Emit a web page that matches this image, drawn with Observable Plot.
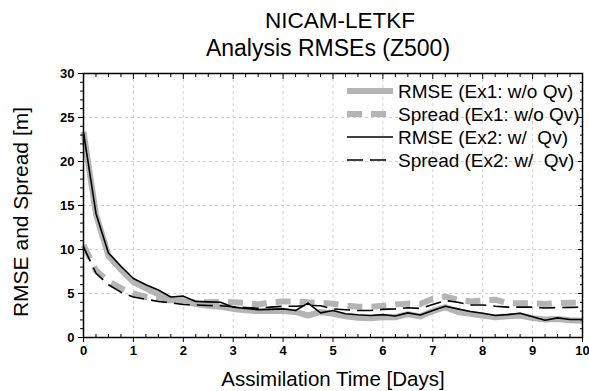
<!DOCTYPE html>
<html><head><meta charset="utf-8">
<script src="https://cdn.jsdelivr.net/npm/d3@7"></script>
<script src="https://cdn.jsdelivr.net/npm/@observablehq/plot@0.6"></script>
<style>
body{margin:0;background:#fff;font-family:"Liberation Sans",Arial,sans-serif;}
#wrap{position:relative;width:589px;height:391px;overflow:hidden;}
#wrap svg{position:absolute;left:0;top:0;}
.t{position:absolute;width:400px;text-align:center;color:#000;white-space:nowrap;}
#ylab{position:absolute;left:21px;top:212px;transform:translate(-50%,-50%) rotate(-90deg);font-size:21px;white-space:nowrap;}
</style></head><body>
<div id="wrap">
<div class="t" style="left:140px;top:8px;font-size:22.5px;">NICAM-LETKF</div>
<div class="t" style="left:128px;top:35px;font-size:23px;">Analysis RMSEs (Z500)</div>
<div class="t" style="left:133px;top:367px;font-size:20.5px;">Assimilation Time [Days]</div>
<div id="ylab">RMSE and Spread [m]</div>
</div>
<script>
const days = [0,0.25,0.5,0.75,1,1.25,1.5,1.75,2,2.25,2.5,2.75,3,3.25,3.5,3.75,4,4.25,4.5,4.75,5,5.25,5.5,5.75,6,6.25,6.5,6.75,7,7.25,7.5,7.75,8,8.25,8.5,8.75,9,9.25,9.5,9.75,10];
const rmseEx1 = [23.4,14.0,9.3,7.7,6.3,5.6,4.9,4.3,4.1,3.8,3.6,3.5,3.25,3.1,3.0,3.05,3.0,2.9,2.5,2.9,2.7,2.4,2.25,2.2,2.3,2.3,2.65,2.4,3.0,3.45,2.9,2.7,2.5,2.3,2.4,2.5,2.2,2.05,2.1,1.95,1.9];
const spreadEx1 = [10.5,7.6,6.4,5.6,5.0,4.6,4.4,4.2,4.1,4.0,4.0,4.05,4.0,3.94,3.75,4.0,4.1,4.1,4.0,3.94,3.83,3.64,3.5,3.5,3.6,3.75,3.85,3.8,4.4,4.65,4.3,4.1,4.2,4.3,3.9,3.9,3.9,3.8,3.9,3.95,3.95];
const rmseEx2 = [23.3,14.1,9.6,8.1,6.7,6.0,5.4,4.6,4.7,4.1,4.05,4.0,3.45,3.3,3.15,3.2,3.25,3.07,3.9,2.8,3.07,2.7,2.58,2.5,2.6,2.45,2.8,2.55,3.07,3.56,3.25,2.95,2.75,2.5,2.6,2.75,2.35,1.97,2.23,2.05,2.05];
const spreadEx2 = [10.3,7.3,6.0,5.15,4.6,4.35,4.1,3.94,3.75,3.7,3.64,3.6,3.5,3.4,3.33,3.45,3.55,3.55,3.64,3.6,3.25,3.15,3.07,3.07,3.2,3.25,3.38,3.3,3.75,4.2,4.0,3.7,3.7,3.55,3.45,3.45,3.45,3.35,3.4,3.42,3.45];
const seriesLabels = ["RMSE (Ex1: w/o Qv)","Spread (Ex1: w/o Qv)","RMSE (Ex2: w/  Qv)","Spread (Ex2: w/  Qv)"];
const xTicks = [0,1,2,3,4,5,6,7,8,9,10];
const yTicks = [0,5,10,15,20,25,30];

const styles = [
  {stroke:"#b4b4b4", strokeWidth:6, dash:null},
  {stroke:"#b4b4b4", strokeWidth:6, dash:"15,9"},
  {stroke:"#000", strokeWidth:1.6, dash:null},
  {stroke:"#000", strokeWidth:1.6, dash:"16,7"}
];
const seriesValues = [rmseEx1, spreadEx1, rmseEx2, spreadEx2];
const tables = seriesValues.map(vals => days.map((d,i)=>({d, v: vals[i]})));

const xMinor = d3.range(0, 10.001, 0.25).filter(v => Math.abs(v - Math.round(v)) > 1e-6);
const yMinor = d3.range(0, 30.001, 1).filter(v => v % 5 !== 0);

const lineMarks = tables.map((t,k) => Plot.line(t, {x:"d", y:"v", stroke:styles[k].stroke, strokeWidth:styles[k].strokeWidth, strokeDasharray:styles[k].dash, strokeLinejoin:"round", strokeLinecap:"butt"}));

const chart = Plot.plot({
  width:589, height:391,
  marginLeft:83, marginRight:7, marginTop:73, marginBottom:54,
  style:{fontFamily:"Liberation Sans, Arial, sans-serif", background:"transparent", overflow:"visible"},
  x:{domain:[0,10]},
  y:{domain:[0,30]},
  marks:[
    Plot.gridX(xTicks.slice(1,-1), {stroke:"#c8c8c8", strokeOpacity:1, strokeDasharray:"3,3", strokeWidth:0.8}),
    Plot.gridY(yTicks.slice(1,-1), {stroke:"#c8c8c8", strokeOpacity:1, strokeDasharray:"3,3", strokeWidth:0.8}),
    ...lineMarks,
    Plot.frame({stroke:"#000", strokeWidth:1.5}),
    Plot.axisX(xTicks, {anchor:"bottom", tickSize:5, tickPadding:3, fontSize:13, fontWeight:"bold", label:null}),
    Plot.axisX(xMinor, {anchor:"bottom", tickSize:-3, tickFormat:()=>"", label:null}),
    Plot.axisX(xTicks, {anchor:"top", tickSize:-5, tickFormat:()=>"", label:null}),
    Plot.axisX(xMinor, {anchor:"top", tickSize:-3, tickFormat:()=>"", label:null}),
    Plot.axisY(yTicks, {anchor:"left", tickSize:5, tickPadding:4, fontSize:13, fontWeight:"bold", label:null}),
    Plot.axisY(yMinor, {anchor:"left", tickSize:3, tickFormat:()=>"", label:null}),
    Plot.axisY(yTicks, {anchor:"right", tickSize:-5, tickFormat:()=>"", label:null}),
    Plot.axisY(yMinor, {anchor:"right", tickSize:-3, tickFormat:()=>"", label:null})
  ]
});
document.getElementById("wrap").appendChild(chart);

// legend
const svg = d3.select(chart);
const lg = svg.append("g").attr("font-family","Liberation Sans, Arial, sans-serif").attr("font-size","19px").attr("text-anchor","start");
seriesLabels.forEach((lab,k) => {
  const yy = 91 + k*23;
  lg.append("line").attr("x1",347).attr("x2",393).attr("y1",yy).attr("y2",yy)
    .attr("stroke",styles[k].stroke).attr("stroke-width",styles[k].strokeWidth)
    .attr("stroke-dasharray",styles[k].dash);
  lg.append("text").attr("x",398).attr("y",yy).attr("dy","0.36em").attr("fill","#000").attr("text-anchor","start")
    .style("white-space","pre").attr("xml:space","preserve").text(lab);
});
</script>
</body></html>
